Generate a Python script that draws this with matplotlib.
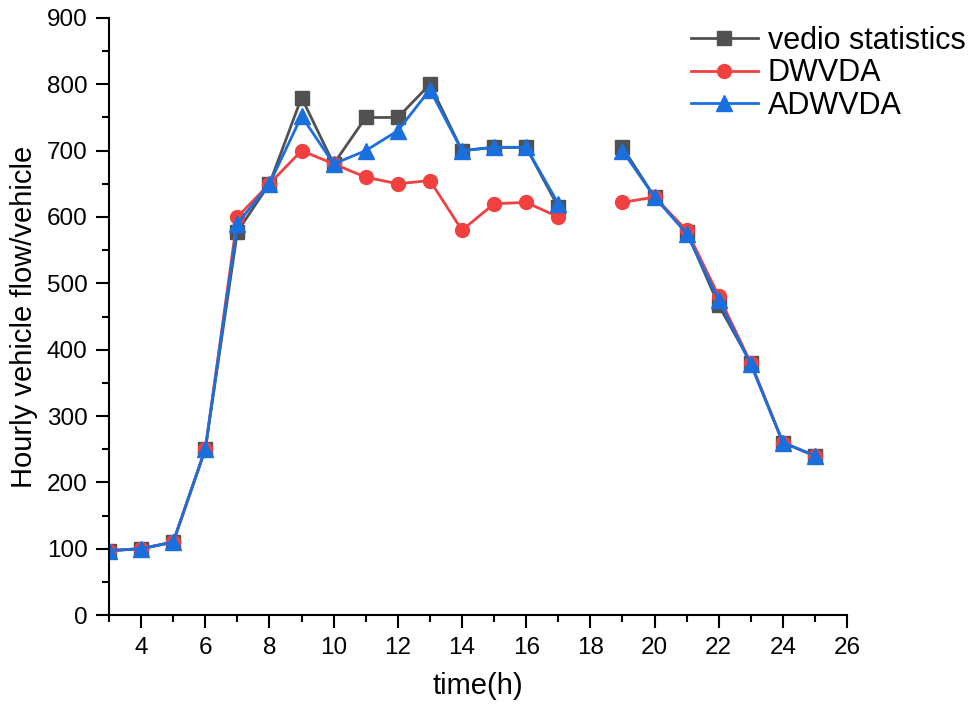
import numpy as np
import matplotlib.pyplot as plt
from matplotlib.ticker import MultipleLocator

plt.rcParams['font.family'] = ['Liberation Sans', 'DejaVu Sans']

# hours of the day, 18h has no data (gap in the lines)
hours = [3, 4, 5, 6, 7, 8, 9, 10, 11, 12, 13, 14, 15, 16, 17, 18, 19, 20, 21, 22, 23, 24, 25]
vedio = [97, 100, 110, 250, 578, 650, 780, 680, 750, 750, 800, 700, 705, 705, 615,
         np.nan, 705, 630, 578, 467, 380, 260, 240]
dwvda = [97, 100, 110, 250, 600, 650, 700, 680, 660, 650, 655, 580, 620, 622, 600,
         np.nan, 622, 630, 580, 481, 380, 260, 240]
adwvda = [97, 100, 110, 250, 590, 650, 752, 680, 700, 730, 792, 700, 705, 705, 620,
          np.nan, 700, 630, 575, 475, 378, 260, 240]

labels = ['vedio statistics', 'DWVDA', 'ADWVDA']
colors = ['#515151', '#F14040', '#1A6FDF']
markers = ['s', 'o', '^']
msizes = [9.5, 10, 11]

fig = plt.figure(figsize=(9.77, 7.13), dpi=100)
ax = fig.add_axes([0.1116, 0.1374, 0.7554, 0.8374])

for ys, lab, c, m, ms in zip([vedio, dwvda, adwvda], labels, colors, markers, msizes):
    ax.plot(hours, ys, color=c, marker=m, markersize=ms, linewidth=2.0, label=lab)

ax.set_xlim(3, 26)
ax.set_ylim(0, 900)
ax.xaxis.set_minor_locator(MultipleLocator(1))
ax.yaxis.set_major_locator(MultipleLocator(100))
ax.yaxis.set_minor_locator(MultipleLocator(50))
ax.set_xticks([4, 6, 8, 10, 12, 14, 16, 18, 20, 22, 24, 26])

for side in ['top', 'right']:
    ax.spines[side].set_visible(False)
for side in ['left', 'bottom']:
    ax.spines[side].set_linewidth(1.5)
ax.tick_params(which='major', direction='out', length=9.5, width=1.5, labelsize=17.5, pad=6)
ax.tick_params(which='minor', direction='out', length=5, width=1.5)

ax.set_xlabel('time(h)', fontsize=21, labelpad=10)
ax.set_ylabel('Hourly vehicle flow/vehicle', fontsize=21, labelpad=6)

ax.legend(loc='upper right', bbox_to_anchor=(1.198, 1.033), frameon=False,
          fontsize=22, handlelength=2.2, handletextpad=0.33, labelspacing=0.08)

fig.savefig('out.png', dpi=100)
